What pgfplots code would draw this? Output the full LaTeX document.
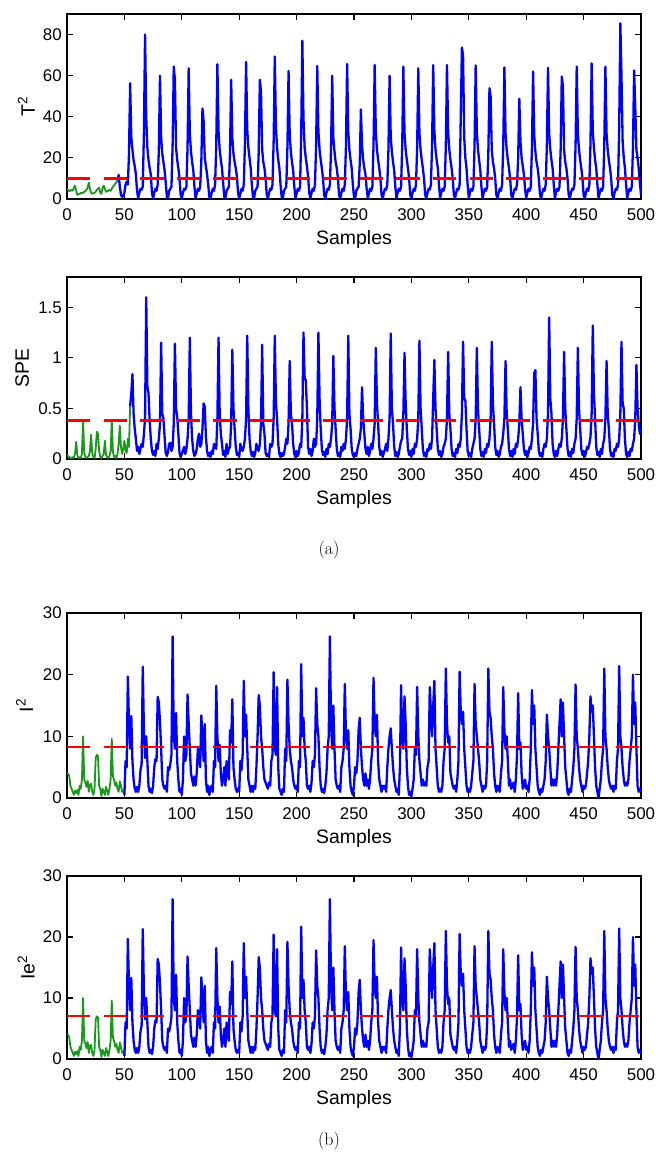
\documentclass[border=0pt]{standalone}
\usepackage{fontspec}
\usepackage{pgfplots}
\pgfplotsset{compat=1.18}
\usepackage{pgfplotstable}
\newfontfamily\arial{Liberation Sans}
\definecolor{mblue}{rgb}{0,0,1}
\definecolor{mgreen}{rgb}{0.1,0.6,0.1}
\definecolor{mred}{rgb}{1,0,0}
\newcommand{\labfont}{\arial\fontsize{19.5}{22}\selectfont}
\newcommand{\tickfont}{\arial\fontsize{17}{19}\selectfont}

\pgfplotstableread[row sep=\\]{x y\\
0 4\\1 4\\2 3.5\\3 2\\4 1.5\\5 1\\6 0.5\\7 1.2\\8 0.8\\9 1.3\\10 0.5\\11 2\\12 1.5\\13 3\\14 10\\15 3\\16 2.5\\17 1.8\\18 2.8\\19 1\\20 2.2\\
21 2.3\\22 1\\23 0.5\\24 1.5\\25 6.5\\26 7\\27 6.8\\28 2\\29 1.5\\30 0.3\\31 1.5\\32 1\\33 0.5\\34 1.8\\35 1.2\\36 0.5\\37 1.5\\38 3\\39 9.6\\40 3.5\\
41 3\\42 2\\43 2.5\\44 1.5\\45 1\\46 2.7\\47 2\\48 1\\49 1.2\\50 0.5\\
}\Igreen

\pgfplotstableread[row sep=\\]{x y\\
50 0.5\\51 6\\52 5\\53 19.7\\54 12\\55 8\\56 13.3\\57 6\\58 3\\59 1.5\\60 1\\61 1.8\\62 1\\63 2\\64 4.5\\65 5.5\\66 21.3\\67 11\\68 6.5\\69 10\\70 6\\
71 2\\72 1\\73 1.5\\74 0.8\\75 2\\76 5\\77 6.3\\78 6\\79 16.4\\80 15.5\\81 12.4\\82 8\\83 3\\84 2\\85 1.5\\86 2\\87 1\\88 5\\89 4.5\\90 5.5\\
91 7\\92 26.2\\93 10\\94 8\\95 13.8\\96 6\\97 3\\98 1\\99 1.5\\100 0.5\\101 3\\102 10\\103 6\\104 7\\105 16.8\\106 12\\107 8\\108 4\\109 3\\110 2\\
111 3.5\\112 2\\113 4\\114 8\\115 7\\116 5\\117 13.4\\118 10\\119 6\\120 12\\121 3\\122 1\\123 2\\124 0.5\\125 1.5\\126 2\\127 1\\128 6\\129 5\\130 18.2\\
131 10\\132 6\\133 8.6\\134 4\\135 2\\136 3\\137 5\\138 2\\139 6\\140 4\\141 3\\142 11\\143 9\\144 16\\145 5\\146 3\\147 1.5\\148 1\\149 1.5\\150 1\\
151 6\\152 4.5\\153 7\\154 19\\155 10\\156 13.5\\157 8\\158 3\\159 2\\160 1\\161 2\\162 1\\163 2\\164 1.5\\165 5\\166 10\\167 16.7\\168 15\\169 10\\170 8\\
171 5\\172 3\\173 2.5\\174 2\\175 1.5\\176 2.5\\177 2\\178 6\\179 7\\180 20.4\\181 8\\182 7\\183 18\\184 5\\185 1.5\\186 1\\187 0.5\\188 1.5\\189 1\\190 8\\
191 6\\192 19.2\\193 12\\194 8\\195 6\\196 5\\197 3\\198 2\\199 1.5\\200 2\\201 1\\202 6\\203 5\\204 21.7\\205 10\\206 13\\207 8\\208 6\\209 2\\210 1.5\\
211 2\\212 1\\213 2.5\\214 6\\215 5\\216 7\\217 17.8\\218 12\\219 10\\220 5\\221 2\\222 1\\223 1.5\\224 0.8\\225 2\\226 4\\227 8\\228 10\\229 26.2\\230 12\\
231 8\\232 15\\233 8\\234 3\\235 2\\236 1.5\\237 2\\238 1\\239 5\\240 6\\241 8\\242 18.5\\243 10\\244 8\\245 11\\246 5\\247 2\\248 1\\249 0.5\\250 2\\
251 5\\252 4\\253 6\\254 11\\255 13\\256 8\\257 5\\258 3\\259 2\\260 4\\261 2\\262 3\\263 1.5\\264 3\\265 6\\266 8\\267 19.5\\268 12\\269 10\\270 13.5\\
271 6\\272 3\\273 2\\274 1\\275 2\\276 1.5\\277 2\\278 1\\279 5\\280 8\\281 10\\282 11.3\\283 8\\284 5\\285 3\\286 2\\287 1\\288 1.5\\289 0.5\\290 5\\
291 18.3\\292 10\\293 8\\294 16.5\\295 12\\296 5\\297 2\\298 0.5\\299 1\\300 0.3\\301 1.5\\302 3\\303 8\\304 7\\305 18\\306 10\\307 6\\308 4\\309 2\\310 3\\
311 2\\312 2.5\\313 2\\314 5\\315 6\\316 18\\317 14\\318 10\\319 15\\320 19\\321 8\\322 5\\323 2\\324 1\\325 1.5\\326 1\\327 2\\328 6\\329 8\\330 21\\
331 12\\332 9\\333 10\\334 4\\335 3\\336 2\\337 1.5\\338 2\\339 1\\340 3\\341 6\\342 20.5\\343 14\\344 12\\345 14\\346 8\\347 5\\348 2\\349 1\\350 1.5\\
351 1\\352 2\\353 4\\354 6\\355 18.5\\356 12\\357 10\\358 8\\359 6\\360 3\\361 2\\362 1\\363 2\\364 1.5\\365 2\\366 6\\367 21\\368 14\\369 13\\370 10\\
371 8\\372 4\\373 2\\374 1\\375 2\\376 1.5\\377 1\\378 4\\379 6\\380 18\\381 11\\382 8\\383 10\\384 6\\385 2\\386 3\\387 1.5\\388 2\\389 2.5\\390 1\\
391 3\\392 7\\393 17\\394 8\\395 9\\396 4\\397 1.5\\398 2\\399 3\\400 1.5\\401 2\\402 1\\403 3\\404 8\\405 17.5\\406 12\\407 15\\408 8\\409 5\\410 2\\
411 1\\412 0.5\\413 1.5\\414 1\\415 2\\416 3\\417 6\\418 13.5\\419 10\\420 8\\421 5\\422 2\\423 3\\424 2\\425 3\\426 2\\427 4\\428 8\\429 12\\430 16\\
431 10\\432 15.5\\433 10\\434 5\\435 3\\436 1\\437 0.5\\438 1.5\\439 1\\440 3\\441 5\\442 8\\443 18.4\\444 10\\445 8\\446 5\\447 3\\448 2\\449 1\\450 2\\
451 1.5\\452 2\\453 4\\454 6\\455 10\\456 16.5\\457 14\\458 15\\459 10\\460 5\\461 2\\462 1\\463 0\\464 1.5\\465 3\\466 6\\467 8\\468 21\\469 10\\470 8\\
471 5\\472 3\\473 2\\474 1.5\\475 2\\476 1\\477 2\\478 1.5\\479 6\\480 8\\481 21.4\\482 10\\483 8\\484 5\\485 3\\486 2\\487 2.5\\488 2\\489 3\\490 6\\
491 8\\492 10\\493 20\\494 12\\495 15.5\\496 8\\497 2\\498 1\\499 1.5\\500 1\\
}\Iblue

\pgfplotsset{
  mstyle/.style={
    scale only axis, width=574bp,
    xmin=0, xmax=500, xtick={0,50,...,500},
    axis line style={line width=1.4bp},
    every tick/.style={black, line width=1.2bp},
    tick align=inside, major tick length=6bp,
    /pgf/number format/assume math mode=true,
    tick label style={font=\tickfont},
    xticklabel style={inner sep=0pt, anchor=north, yshift=-9bp},
    yticklabel style={inner sep=0pt, anchor=east, xshift=-5bp},
    xlabel={Samples},
    every axis x label/.style={at={(axis description cs:0.5,0)}, anchor=north, inner sep=0pt, yshift=-31bp, font=\labfont},
    every axis plot/.append style={line join=round},
  },
  ylab/.style={every axis y label/.style={at={(axis description cs:-#1,0.5)}, rotate=90, anchor=south, inner sep=0pt, font=\labfont}},
  blueline/.style={mblue, line width=2.3bp},
  greenline/.style={mgreen, line width=1.8bp},
  redline/.style={mred, line width=2.3bp, dash pattern=on 23.3bp off 13.3bp},
}

\begin{document}
\begin{tikzpicture}
\useasboundingbox (0,0) rectangle (656bp,-1157bp);

% ---------------- T^2 ----------------
\begin{axis}[mstyle, ylab=0.0557, height=185bp, at={(67bp,-14bp)}, anchor=north west,
  ymin=0, ymax=90, ytick={0,20,40,60,80}, ylabel={T\textsuperscript{2}}]
\addplot[greenline] coordinates {(0,5)(1,4.5)(2,3.8)(3,4)(4,4.5)(5,4)(6,5.5)(7,6.5)(8,4)(9,2)(10,2.3)(11,2.5)(12,3)(13,2.8)(14,3)(15,3.5)(16,4)(17,4.5)(18,5.5)(19,8)(20,5)(21,3)(22,2.5)(23,2.8)(24,3)(25,3.5)(26,4.5)(27,5)(28,5.5)(29,3)(30,2.5)(31,5.5)(32,6.5)(33,5)(34,3.5)(35,3.8)(36,4)(37,4.5)(38,4)(39,5)(40,6)(41,6.5)(42,7.5)(43,8)(44,9)};
\addplot[blueline] coordinates {
(44,9)(45,11.7)(46,6)(47,2)(48,1)(49,1.5)(50,3)(51,7)(52,8.4)(53,7)
(54,22)(55,56.3)(56,30)(57,24)(58,19)(59,16)(60,12)(61,4)(62,0.5)(63,3)(64,5)(65,4.5)(66,6)
(67,32)(68,80)(69,40)(70,25)(71,19)(72,15)(73,12)(74,3)(75,0.3)(76,3)(77,5)(78,4)(79,7)
(80,24)(81,60)(82,30)(83,22)(84,18)(85,14)(86,8)(87,1)(88,0.5)(89,4)(90,5)(91,6)
(92,26)(93,64.4)(94,58)(95,25)(96,19)(97,15)(98,10)(99,2)(100,0.3)(101,3)(102,5)(103,4.5)(104,6)
(105,25)(106,63.6)(107,32)(108,23)(109,18)(110,14)(111,6)(112,0.5)(113,2.5)(114,5)(115,4)(116,6)
(117,18)(118,44)(119,38)(120,20)(121,16)(122,12)(123,7)(124,1)(125,0.3)(126,3)(127,5)(128,4)(129,7)
(130,26)(131,65.6)(132,33)(133,24)(134,19)(135,15)(136,8)(137,1)(138,0.5)(139,4)(140,5)(141,6)
(142,23)(143,58)(144,30)(145,22)(146,18)(147,15)(148,11)(149,3)(150,0.3)(151,2.5)(152,5)(153,4)(154,7)
(155,27)(156,66.7)(157,34)(158,25)(159,20)(160,15)(161,7)(162,1)(163,0.5)(164,4)(165,5)(166,6)
(167,23)(168,58)(169,52)(170,24)(171,18)(172,15)(173,10)(174,2)(175,0.3)(176,3)(177,5)(178,4.5)(179,7)
(180,28)(181,69.3)(182,35)(183,25)(184,19)(185,15)(186,7)(187,1)(188,0.5)(189,4)(190,5)(191,6)
(192,25)(193,62.3)(194,31)(195,23)(196,18)(197,14)(198,6)(199,0.5)(200,2.5)(201,5)(202,4)(203,6)
(204,31)(205,77)(206,39)(207,25)(208,20)(209,16)(210,11)(211,3)(212,0.3)(213,3)(214,5)(215,4)(216,7)
(217,26)(218,64.7)(219,33)(220,24)(221,19)(222,15)(223,10)(224,2)(225,0.3)(226,3)(227,5)(228,4.5)(229,7)
(230,24)(231,60)(232,30)(233,23)(234,18)(235,15)(236,10)(237,2)(238,0.3)(239,3)(240,5)(241,4)(242,7)
(243,26)(244,65.7)(245,33)(246,24)(247,19)(248,15)(249,7)(250,1)(251,0.5)(252,4)(253,5)(254,6)
(255,17)(256,43.6)(257,26)(258,19)(259,15)(260,12)(261,5)(262,0.5)(263,2.5)(264,5)(265,4)(266,6)
(267,26)(268,65.2)(269,33)(270,24)(271,19)(272,15)(273,10)(274,2)(275,0.3)(276,3)(277,5)(278,4.5)(279,7)
(280,24)(281,60)(282,30)(283,23)(284,18)(285,14)(286,6)(287,0.5)(288,3)(289,5)(290,4)(291,6)
(292,26)(293,64.4)(294,32)(295,24)(296,19)(297,15)(298,10)(299,2)(300,0.3)(301,3)(302,5)(303,4)(304,7)
(305,25)(306,63.6)(307,32)(308,24)(309,19)(310,15)(311,10)(312,2)(313,0.3)(314,3)(315,5)(316,4.5)(317,7)
(318,26)(319,65.2)(320,33)(321,24)(322,19)(323,15)(324,7)(325,0.5)(326,3)(327,5)(328,4)(329,6)
(330,26)(331,65.2)(332,33)(333,24)(334,19)(335,15)(336,10)(337,2)(338,0.3)(339,3)(340,5)(341,4.5)(342,7)
(343,40)(344,73.7)(345,70)(346,30)(347,20)(348,15)(349,7)(350,0.5)(351,3)(352,5)(353,4)(354,6)
(355,26)(356,65)(357,33)(358,24)(359,19)(360,14)(361,6)(362,0.5)(363,3)(364,5)(365,4)(366,6)
(367,22)(368,53.9)(369,50)(370,24)(371,18)(372,15)(373,10)(374,2)(375,0.3)(376,3)(377,5)(378,4)(379,7)
(380,26)(381,64)(382,32)(383,24)(384,19)(385,15)(386,10)(387,2)(388,0.3)(389,3)(390,5)(391,4.5)(392,7)
(393,20)(394,48.8)(395,28)(396,20)(397,16)(398,12)(399,5)(400,0.5)(401,3)(402,5)(403,4)(404,6)
(405,25)(406,62)(407,31)(408,23)(409,18)(410,15)(411,10)(412,2)(413,0.3)(414,3)(415,5)(416,4)(417,7)
(418,26)(419,63.8)(420,32)(421,24)(422,19)(423,15)(424,7)(425,0.5)(426,3)(427,5)(428,4)(429,6)
(430,24)(431,59.6)(432,55)(433,24)(434,18)(435,15)(436,10)(437,2)(438,0.3)(439,3)(440,5)(441,4.5)(442,7)
(443,26)(444,64.4)(445,32)(446,24)(447,19)(448,15)(449,10)(450,2)(451,0.3)(452,3)(453,5)(454,4)(455,7)
(456,27)(457,66)(458,33)(459,25)(460,19)(461,15)(462,7)(463,0.5)(464,3)(465,5)(466,4)(467,6)
(468,26)(469,64.4)(470,32)(471,24)(472,19)(473,15)(474,10)(475,2)(476,0.3)(477,3)(478,5)(479,4.5)(480,7)
(481,35)(482,85.5)(483,60)(484,28)(485,20)(486,15)(487,7)(488,0.5)(489,3)(490,5)(491,4)(492,6)
(493,25)(494,62.5)(495,45)(496,24)(497,20)(498,15)(499,8)(500,2)};
\addplot[redline] coordinates {(0,10)(500,10)};
\end{axis}

% ---------------- SPE ----------------
\begin{axis}[mstyle, ylab=0.0657, height=182bp, at={(67bp,-277bp)}, anchor=north west,
  ymin=0, ymax=1.8, ytick={0,0.5,1,1.5}, ylabel={SPE}]
\addplot[greenline] coordinates {(0,0.04)(1,0.03)(2,0.02)(3,0.01)(4,0.01)(5,0.02)(6,0.01)(7,0.05)(8,0.17)(9,0.04)(10,0.01)(11,0.02)(12,0.01)(13,0.05)(14,0.38)(15,0.06)(16,0.02)(17,0.01)(18,0.02)(19,0.03)(20,0.08)(21,0.24)(22,0.05)(23,0.02)(24,0.01)(25,0.1)(26,0.27)(27,0.25)(28,0.08)(29,0.02)(30,0.01)(31,0.03)(32,0.05)(33,0.18)(34,0.04)(35,0.02)(36,0.01)(37,0.03)(38,0.08)(39,0.38)(40,0.07)(41,0.02)(42,0.03)(43,0.01)(44,0.05)(45,0.15)(46,0.33)(47,0.12)(48,0.05)(49,0.1)(50,0.18)(51,0.08)(52,0.06)(53,0.2)(54,0.12)(55,0.52)};
\addplot[blueline] coordinates {
(55,0.52)(56,0.65)(57,0.84)(58,0.45)(59,0.3)(60,0.2)(61,0.08)(62,0.12)(63,0.05)(64,0.1)(65,0.15)(66,0.12)(67,0.25)(68,0.4)
(69,1.6)(70,0.72)(71,0.65)(72,0.38)(73,0.2)(74,0.08)(75,0.04)(76,0.08)(77,0.03)(78,0.15)(79,0.1)(80,0.2)
(81,0.35)(82,1.15)(83,0.45)(84,0.4)(85,0.22)(86,0.06)(87,0.03)(88,0.07)(89,0.15)(90,0.16)(91,0.08)(92,0.12)
(93,0.35)(94,1.14)(95,0.5)(96,0.42)(97,0.25)(98,0.06)(99,0.02)(100,0.05)(101,0.08)(102,0.12)(103,0.05)(104,0.1)(105,0.2)
(106,0.4)(107,1.2)(108,0.45)(109,0.2)(110,0.08)(111,0.03)(112,0.05)(113,0.1)(114,0.2)(115,0.25)(116,0.12)(117,0.15)
(118,0.3)(119,0.55)(120,0.52)(121,0.22)(122,0.08)(123,0.03)(124,0.06)(125,0.02)(126,0.08)(127,0.05)(128,0.15)(129,0.12)(130,0.1)
(131,0.4)(132,1.2)(133,0.45)(134,0.25)(135,0.15)(136,0.04)(137,0.08)(138,0.02)(139,0.15)(140,0.05)(141,0.1)(142,0.12)
(143,0.35)(144,1.08)(145,0.5)(146,0.3)(147,0.12)(148,0.04)(149,0.06)(150,0.02)(151,0.15)(152,0.1)(153,0.08)(154,0.12)(155,0.2)
(156,0.4)(157,1.22)(158,0.5)(159,0.2)(160,0.08)(161,0.03)(162,0.07)(163,0.02)(164,0.06)(165,0.15)(166,0.1)(167,0.08)(168,0.15)
(169,0.35)(170,1.13)(171,0.35)(172,0.25)(173,0.06)(174,0.03)(175,0.05)(176,0.02)(177,0.15)(178,0.12)(179,0.15)
(180,0.4)(181,1.22)(182,0.55)(183,0.4)(184,0.15)(185,0.05)(186,0.02)(187,0.06)(188,0.03)(189,0.05)(190,0.12)(191,0.2)(192,0.15)
(193,0.35)(194,0.97)(195,0.45)(196,0.35)(197,0.15)(198,0.05)(199,0.02)(200,0.08)(201,0.03)(202,0.06)(203,0.15)(204,0.12)
(205,0.4)(206,1.25)(207,0.8)(208,0.78)(209,0.5)(210,0.12)(211,0.05)(212,0.1)(213,0.03)(214,0.08)(215,0.2)(216,0.12)(217,0.15)
(218,0.4)(219,1.25)(220,0.6)(221,0.3)(222,0.1)(223,0.04)(224,0.07)(225,0.02)(226,0.1)(227,0.05)(228,0.15)(229,0.12)(230,0.2)
(231,0.35)(232,1.02)(233,0.5)(234,0.3)(235,0.1)(236,0.03)(237,0.06)(238,0.02)(239,0.12)(240,0.08)(241,0.15)(242,0.1)(243,0.2)
(244,0.4)(245,1.22)(246,0.45)(247,0.3)(248,0.1)(249,0.04)(250,0.02)(251,0.06)(252,0.03)(253,0.1)(254,0.15)(255,0.2)
(256,0.3)(257,0.71)(258,0.4)(259,0.25)(260,0.1)(261,0.05)(262,0.12)(263,0.03)(264,0.08)(265,0.15)(266,0.1)(267,0.2)
(268,0.35)(269,1.1)(270,0.55)(271,0.35)(272,0.12)(273,0.04)(274,0.08)(275,0.02)(276,0.06)(277,0.1)(278,0.15)(279,0.08)(280,0.2)
(281,0.4)(282,1.24)(283,0.5)(284,0.35)(285,0.12)(286,0.03)(287,0.07)(288,0.02)(289,0.05)(290,0.12)(291,0.18)(292,0.2)
(293,0.45)(294,1.05)(295,0.55)(296,0.3)(297,0.1)(298,0.04)(299,0.08)(300,0.02)(301,0.1)(302,0.05)(303,0.15)(304,0.12)(305,0.2)
(306,0.4)(307,1.17)(308,0.5)(309,0.3)(310,0.1)(311,0.03)(312,0.06)(313,0.02)(314,0.1)(315,0.08)(316,0.15)(317,0.1)(318,0.2)
(319,0.6)(320,0.98)(321,0.5)(322,0.3)(323,0.1)(324,0.04)(325,0.08)(326,0.02)(327,0.05)(328,0.12)(329,0.15)(330,0.2)
(331,0.4)(332,1.06)(333,0.45)(334,0.3)(335,0.1)(336,0.03)(337,0.06)(338,0.02)(339,0.1)(340,0.06)(341,0.15)(342,0.12)(343,0.2)
(344,0.45)(345,1.16)(346,0.6)(347,0.58)(348,0.3)(349,0.08)(350,0.03)(351,0.06)(352,0.02)(353,0.1)(354,0.15)(355,0.2)
(356,0.4)(357,1.1)(358,0.5)(359,0.3)(360,0.1)(361,0.03)(362,0.07)(363,0.02)(364,0.1)(365,0.06)(366,0.15)(367,0.12)(368,0.2)
(369,0.4)(370,1.16)(371,0.55)(372,0.35)(373,0.12)(374,0.04)(375,0.08)(376,0.02)(377,0.05)(378,0.12)(379,0.15)(380,0.25)
(381,0.4)(382,0.97)(383,0.45)(384,0.3)(385,0.1)(386,0.03)(387,0.08)(388,0.02)(389,0.1)(390,0.05)(391,0.15)(392,0.12)(393,0.2)
(394,0.35)(395,0.71)(396,0.4)(397,0.25)(398,0.1)(399,0.04)(400,0.08)(401,0.02)(402,0.06)(403,0.12)(404,0.1)(405,0.2)(406,0.35)
(407,0.85)(408,0.88)(409,0.4)(410,0.25)(411,0.08)(412,0.03)(413,0.06)(414,0.02)(415,0.1)(416,0.15)(417,0.12)(418,0.2)
(419,0.45)(420,1.4)(421,0.6)(422,0.45)(423,0.15)(424,0.05)(425,0.02)(426,0.08)(427,0.03)(428,0.1)(429,0.15)(430,0.12)(431,0.2)
(432,0.4)(433,1.06)(434,0.5)(435,0.3)(436,0.1)(437,0.03)(438,0.07)(439,0.02)(440,0.1)(441,0.06)(442,0.15)(443,0.2)
(444,0.4)(445,1.1)(446,0.5)(447,0.3)(448,0.1)(449,0.04)(450,0.08)(451,0.02)(452,0.06)(453,0.12)(454,0.1)(455,0.15)(456,0.22)
(457,0.45)(458,1.32)(459,0.65)(460,0.4)(461,0.12)(462,0.04)(463,0.07)(464,0.02)(465,0.1)(466,0.05)(467,0.15)(468,0.2)
(469,0.4)(470,0.97)(471,0.45)(472,0.3)(473,0.1)(474,0.03)(475,0.06)(476,0.02)(477,0.1)(478,0.08)(479,0.15)(480,0.12)(481,0.2)
(482,0.45)(483,1.16)(484,0.55)(485,0.5)(486,0.2)(487,0.05)(488,0.02)(489,0.07)(490,0.03)(491,0.1)(492,0.08)(493,0.15)(494,0.2)
(495,0.4)(496,0.93)(497,0.5)(498,0.35)(499,0.25)(500,0.3)};
\addplot[redline] coordinates {(0,0.38)(500,0.38)};
\end{axis}

% ---------------- I^2 ----------------
\begin{axis}[mstyle, ylab=0.0587, height=185bp, at={(67bp,-613bp)}, anchor=north west,
  ymin=0, ymax=30, ytick={0,10,20,30}, ylabel={I\textsuperscript{2}}]
\addplot[greenline] table[x=x,y=y] {\Igreen};
\addplot[blueline] table[x=x,y=y] {\Iblue};
\addplot[redline] coordinates {(0,8.3)(500,8.3)};
\end{axis}

% ---------------- Ie^2 ----------------
\begin{axis}[mstyle, ylab=0.0557, height=183bp, at={(67bp,-876bp)}, anchor=north west,
  ymin=0, ymax=30, ytick={0,10,20,30}, ylabel={Ie\textsuperscript{2}}]
\addplot[greenline] table[x=x,y=y] {\Igreen};
\addplot[blueline] table[x=x,y=y] {\Iblue};
\addplot[redline] coordinates {(0,7.1)(500,7.1)};
\end{axis}

\node[font=\fontsize{18}{20}\selectfont] at (329bp,-550bp) {(a)};
\node[font=\fontsize{18}{20}\selectfont] at (329bp,-1141bp) {(b)};
\end{tikzpicture}
\end{document}
